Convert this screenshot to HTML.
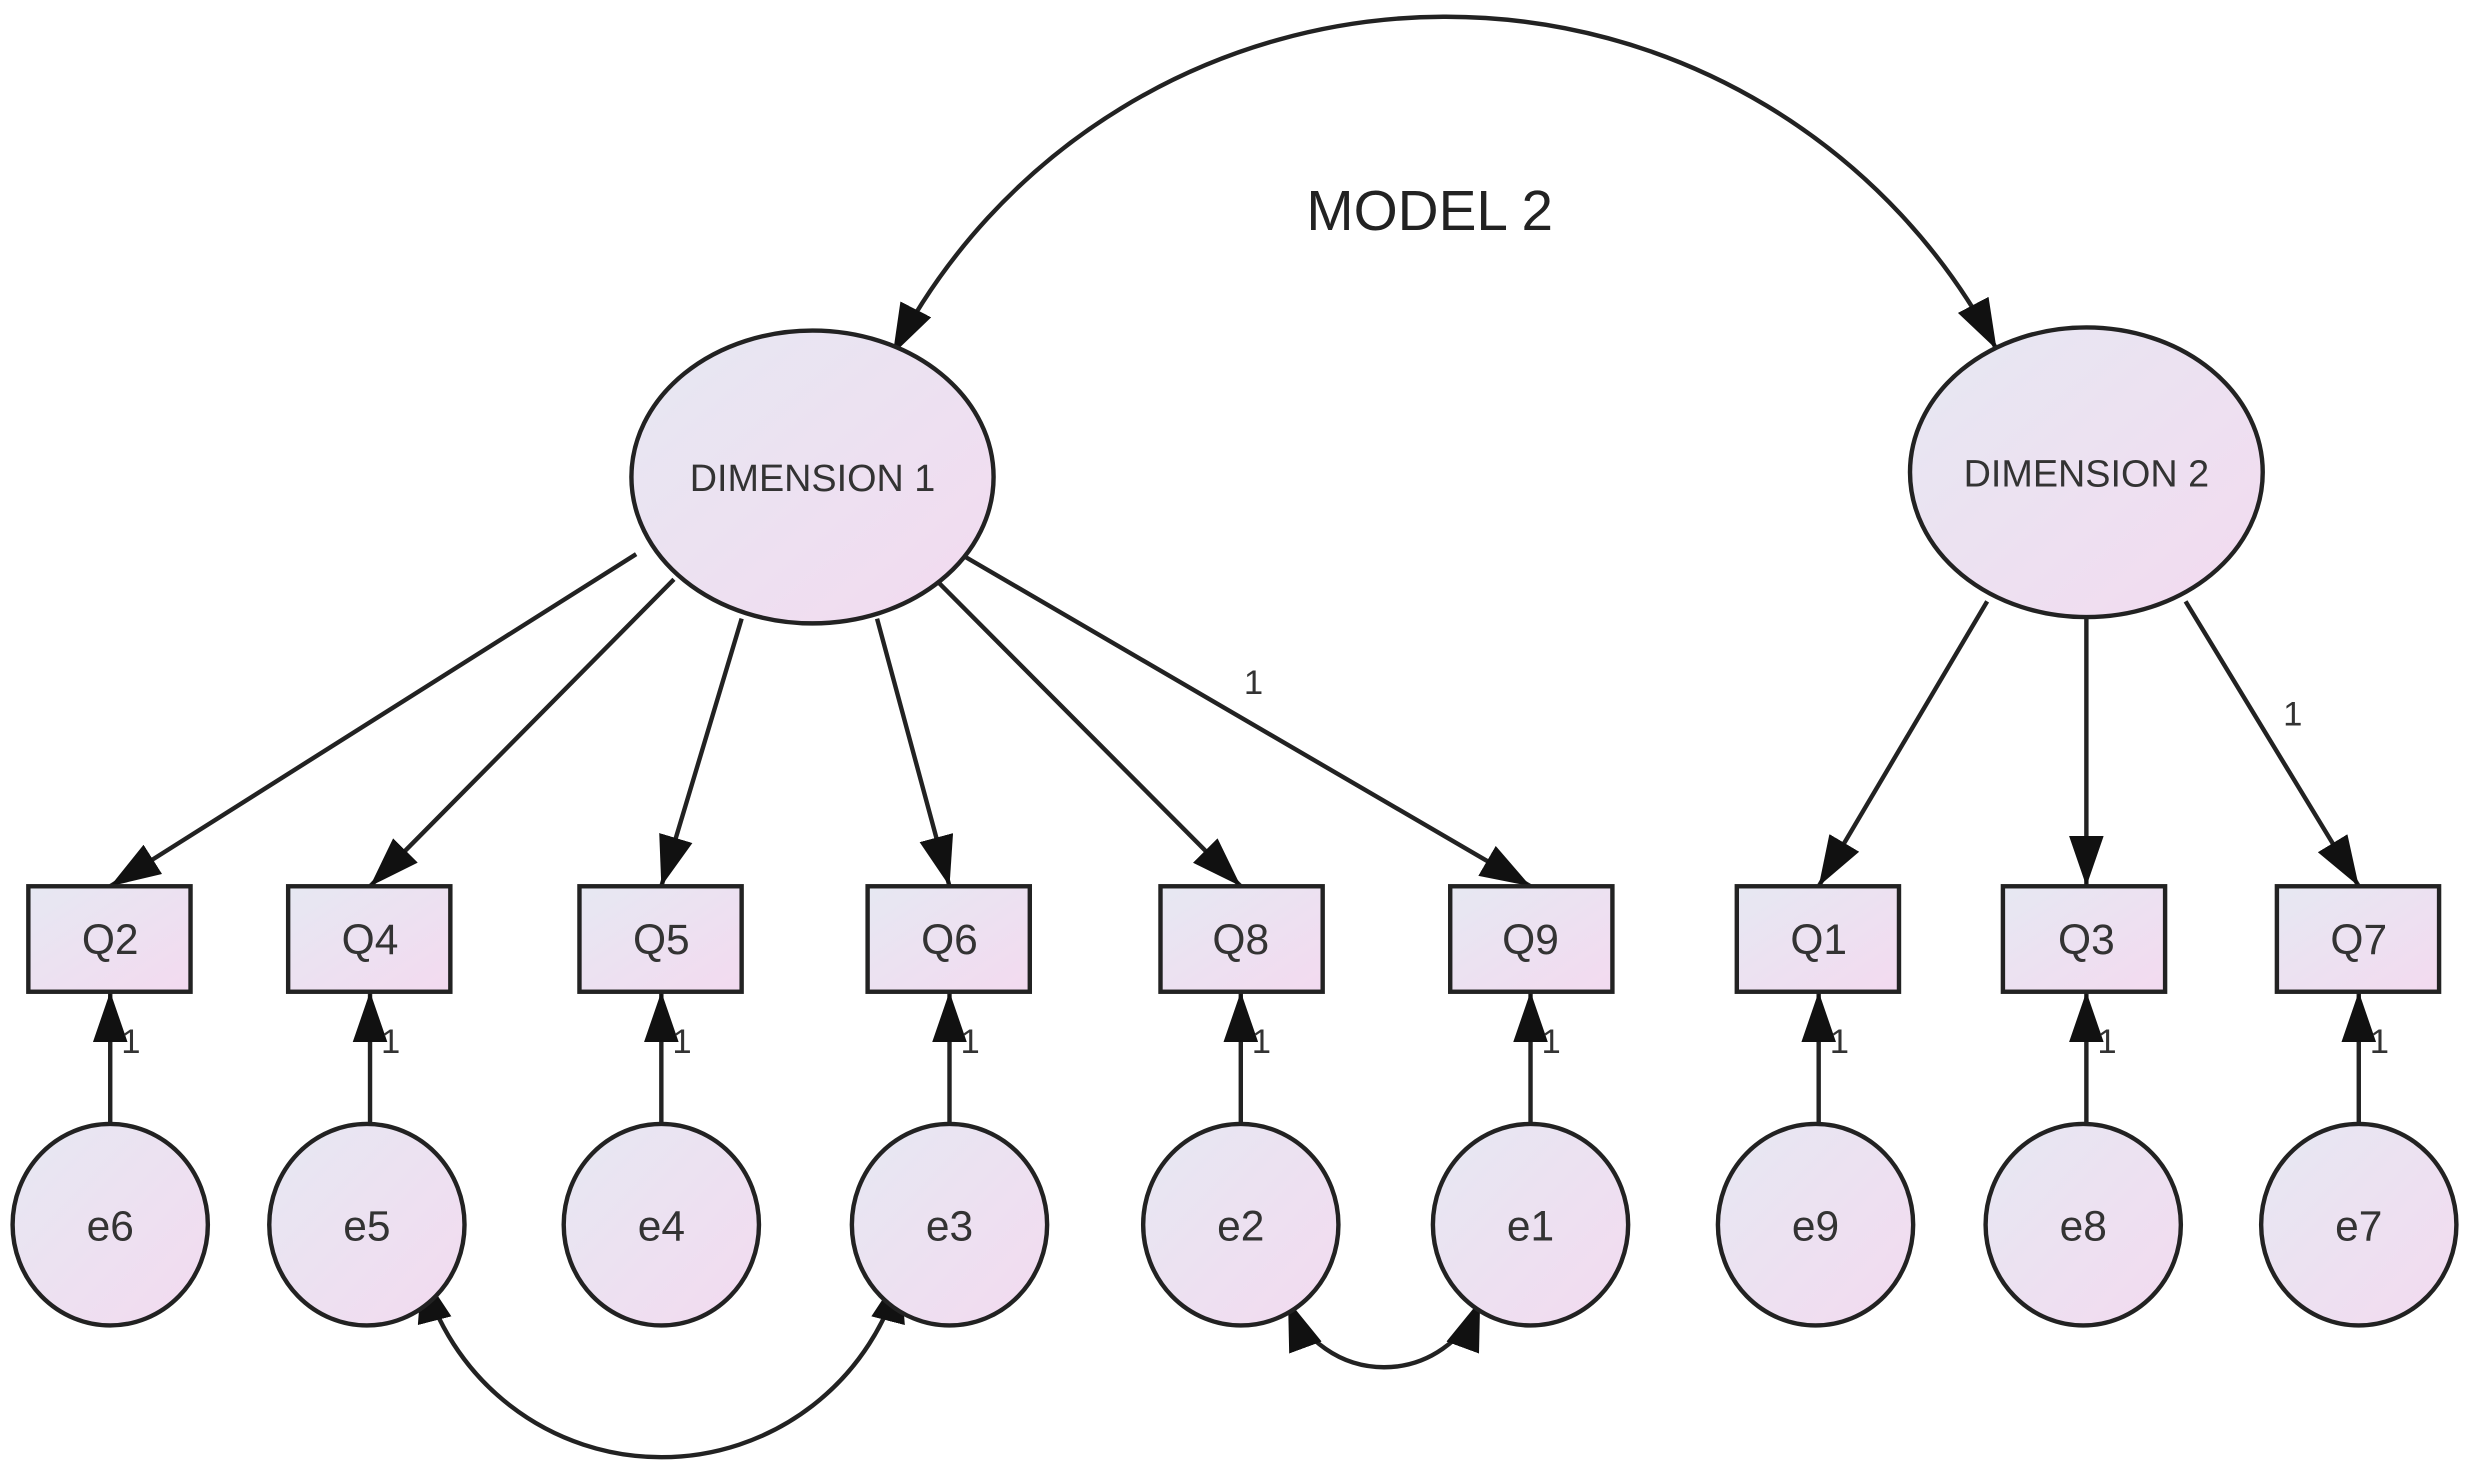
<!DOCTYPE html>
<html><head><style>html,body{margin:0;padding:0;background:#fff}svg{display:block}</style></head>
<body>
<svg width="2469" height="1464" viewBox="0 0 1568 930" preserveAspectRatio="none" xmlns="http://www.w3.org/2000/svg" font-family="Liberation Sans, sans-serif">
<defs>
<linearGradient id="g" x1="0" y1="0" x2="1" y2="1"><stop offset="0" stop-color="#e6e8f2"/><stop offset="1" stop-color="#f3daf0"/></linearGradient>
<marker id="b" viewBox="0 0 10 10" refX="10" refY="5" markerWidth="32" markerHeight="22" markerUnits="userSpaceOnUse" orient="auto-start-reverse" preserveAspectRatio="none"><path d="M0,0 L10,5 L0,10 z" fill="#111"/></marker>
</defs>
<g stroke="#222" stroke-width="2.8" fill="none">
<path d="M567,225 A395,395 0 0 1 1268,222" marker-start="url(#b)" marker-end="url(#b)"/>
<path d="M268,808 A157,157 0 0 0 572,808" marker-start="url(#b)" marker-end="url(#b)"/>
<path d="M818,826 A65,65 0 0 0 940,826" marker-start="url(#b)" marker-end="url(#b)"/>
<line x1="404" y1="352" x2="70" y2="563" marker-end="url(#b)"/>
<line x1="428" y1="368" x2="235" y2="563" marker-end="url(#b)"/>
<line x1="471" y1="393" x2="420" y2="563" marker-end="url(#b)"/>
<line x1="557" y1="393" x2="603" y2="563" marker-end="url(#b)"/>
<line x1="596" y1="370" x2="788" y2="563" marker-end="url(#b)"/>
<line x1="610" y1="352" x2="972" y2="563" marker-end="url(#b)"/>
<line x1="1262" y1="382" x2="1155" y2="563" marker-end="url(#b)"/>
<line x1="1325" y1="392" x2="1325" y2="563" marker-end="url(#b)"/>
<line x1="1388" y1="382" x2="1498" y2="563" marker-end="url(#b)"/>
<g marker-end="url(#b)">
<line x1="70" y1="715" x2="70" y2="630"/><line x1="235" y1="715" x2="235" y2="630"/><line x1="420" y1="715" x2="420" y2="630"/><line x1="603" y1="715" x2="603" y2="630"/><line x1="788" y1="715" x2="788" y2="630"/><line x1="972" y1="715" x2="972" y2="630"/><line x1="1155" y1="715" x2="1155" y2="630"/><line x1="1325" y1="715" x2="1325" y2="630"/><line x1="1498" y1="715" x2="1498" y2="630"/>
</g>
</g>
<g stroke="#222" stroke-width="2.8" fill="url(#g)">
<ellipse cx="516" cy="303" rx="115" ry="93"/>
<ellipse cx="1325" cy="300" rx="112" ry="92"/>
<rect x="18" y="563" width="103" height="67"/><rect x="183" y="563" width="103" height="67"/><rect x="368" y="563" width="103" height="67"/><rect x="551" y="563" width="103" height="67"/><rect x="737" y="563" width="103" height="67"/><rect x="921" y="563" width="103" height="67"/><rect x="1103" y="563" width="103" height="67"/><rect x="1272" y="563" width="103" height="67"/><rect x="1446" y="563" width="103" height="67"/>
<ellipse cx="70" cy="778" rx="62" ry="64"/><ellipse cx="233" cy="778" rx="62" ry="64"/><ellipse cx="420" cy="778" rx="62" ry="64"/><ellipse cx="603" cy="778" rx="62" ry="64"/><ellipse cx="788" cy="778" rx="62" ry="64"/><ellipse cx="972" cy="778" rx="62" ry="64"/><ellipse cx="1153" cy="778" rx="62" ry="64"/><ellipse cx="1323" cy="778" rx="62" ry="64"/><ellipse cx="1498" cy="778" rx="62" ry="64"/>
</g>
<g fill="#333" text-anchor="middle" font-size="27">
<text x="908" y="146" font-size="36" fill="#222">MODEL 2</text>
<text x="516" y="312" font-size="24">DIMENSION 1</text>
<text x="1325" y="309" font-size="24">DIMENSION 2</text>
<text x="70" y="606">Q2</text><text x="235" y="606">Q4</text><text x="420" y="606">Q5</text><text x="603" y="606">Q6</text><text x="788" y="606">Q8</text><text x="972" y="606">Q9</text><text x="1155" y="606">Q1</text><text x="1325" y="606">Q3</text><text x="1498" y="606">Q7</text>
<text x="70" y="788">e6</text><text x="233" y="788">e5</text><text x="420" y="788">e4</text><text x="603" y="788">e3</text><text x="788" y="788">e2</text><text x="972" y="788">e1</text><text x="1153" y="788">e9</text><text x="1323" y="788">e8</text><text x="1498" y="788">e7</text>
</g>
<g fill="#333" font-size="22">
<text x="77" y="669">1</text><text x="242" y="669">1</text><text x="427" y="669">1</text><text x="610" y="669">1</text><text x="795" y="669">1</text><text x="979" y="669">1</text><text x="1162" y="669">1</text><text x="1332" y="669">1</text><text x="1505" y="669">1</text>
<text x="790" y="441">1</text><text x="1450" y="461">1</text>
</g>
</svg>
</body></html>
